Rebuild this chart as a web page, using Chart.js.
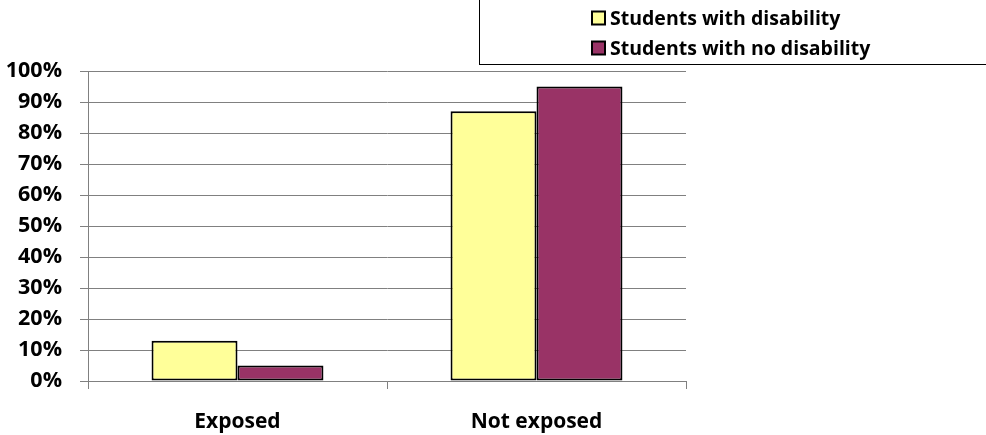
<!DOCTYPE html>
<html>
<head>
<meta charset="utf-8">
<script src="https://cdn.jsdelivr.net/npm/chart.js@4/dist/chart.umd.min.js"></script>
<style>
  html, body { margin: 0; padding: 0; background: #fff; }
  #wrap { width: 986px; height: 435px; }
</style>
</head>
<body>
<div id="wrap"><canvas id="exposureChart" width="986" height="435"></canvas></div>
<script>
const categories = ['Exposed', 'Not exposed'];
const seriesNames = ['Students with disability', 'Students with no disability'];
const withDisability = [13, 87];
const noDisability = [5, 95];
const seriesColors = ['#FFFF99', '#993366'];

const FONT = '"Open Sans", "Liberation Sans", sans-serif';

// boxed legend in the top right corner, built from the datasets
const boxLegend = {
  id: 'boxLegend',
  afterDraw(chart) {
    const ctx = chart.ctx;
    ctx.save();
    ctx.strokeStyle = '#000';
    ctx.lineWidth = 1;
    ctx.strokeRect(479.5, -1, 520, 65.5);

    ctx.font = 'bold 19.5px ' + FONT;
    ctx.textBaseline = 'middle';
    chart.data.datasets.forEach((ds, i) => {
      const cy = 18 + i * 30;
      ctx.fillStyle = ds.backgroundColor;
      ctx.fillRect(592, cy - 6.5, 13, 13);
      ctx.lineWidth = 2;
      ctx.strokeStyle = '#000';
      ctx.strokeRect(592, cy - 6.5, 13, 13);
      ctx.fillStyle = '#000';
      ctx.fillText(ds.label, 610, cy + 1);
    });
    ctx.restore();
  }
};

new Chart(document.getElementById('exposureChart'), {
  type: 'bar',
  data: {
    labels: categories,
    datasets: [
      {
        label: seriesNames[0],
        data: withDisability,
        backgroundColor: seriesColors[0],
        borderColor: '#000',
        borderWidth: 2,
        borderSkipped: false
      },
      {
        label: seriesNames[1],
        data: noDisability,
        backgroundColor: seriesColors[1],
        borderColor: '#000',
        borderWidth: 2,
        borderSkipped: false
      }
    ]
  },
  options: {
    responsive: false,
    animation: false,
    layout: { padding: { top: 71, right: 300, bottom: 0, left: 0 } },
    datasets: { bar: { barPercentage: 1, categoryPercentage: 0.575 } },
    plugins: {
      legend: { display: false },
      tooltip: { enabled: false }
    },
    scales: {
      x: {
        grid: { drawOnChartArea: false, drawTicks: true, tickLength: 8, color: '#808080' },
        border: { color: '#808080' },
        ticks: { color: '#000', padding: 20, font: { family: FONT, size: 21, weight: 'bold' } },
        afterFit(scale) { scale.height = 54; }
      },
      y: {
        min: 0,
        max: 100,
        ticks: {
          stepSize: 10,
          color: '#000',
          padding: 18,
          font: { family: FONT, size: 21.5, weight: 'bold' },
          callback: v => v + '%'
        },
        grid: { color: '#808080', tickLength: 8 },
        border: { color: '#808080' },
        afterFit(scale) { scale.width = 88; }
      }
    }
  },
  plugins: [boxLegend]
});
</script>
</body>
</html>
